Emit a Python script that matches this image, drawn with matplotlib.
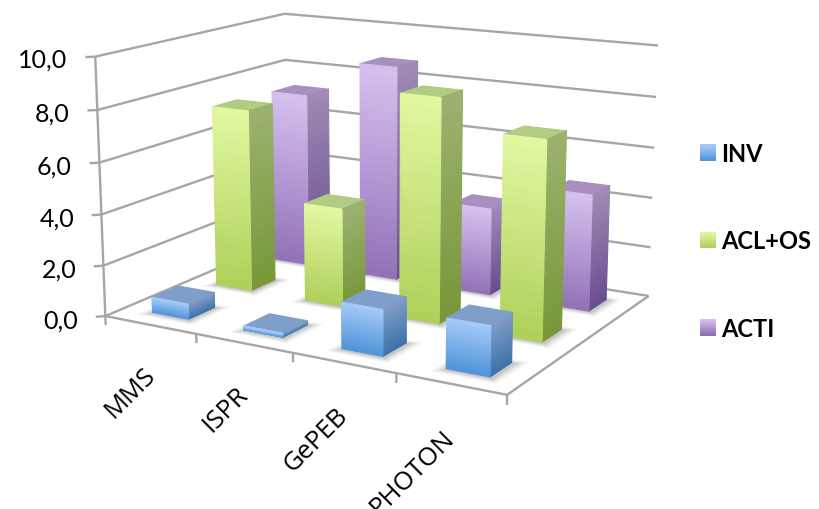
import numpy as np
import matplotlib
matplotlib.use("Agg")
import matplotlib.pyplot as plt
from matplotlib.colors import to_rgb
from matplotlib.legend_handler import HandlerBase
from matplotlib.patches import Rectangle
from mpl_toolkits.mplot3d import proj3d
from mpl_toolkits.mplot3d.art3d import Poly3DCollection

categories = ["MMS", "ISPR", "GePEB", "PHOTON"]
series_names = ["INV", "ACL+OS", "ACTI"]
inv_values = [0.6, 0.15, 1.75, 1.85]
acl_os_values = [7.3, 3.9, 8.65, 7.55]
acti_values = [7.2, 8.75, 3.5, 4.6]
z_ticks = [0, 2, 4, 6, 8, 10]
z_labels = ["0,0", "2,0", "4,0", "6,0", "8,0", "10,0"]

# front top, front bottom, side top, side bottom, cap
palettes = [
    ("#A4CAF8", "#4F93D8", "#7F9CC6", "#3B72A8", "#7E9FCA"),
    ("#E2F8A2", "#AECF58", "#9CB26F", "#779738", "#B1CB82"),
    ("#D6C1EE", "#9270B8", "#9F8BB4", "#684C8E", "#A88FC0"),
]
GRID = "#A6A6A6"
BAR = 0.4
N_STRIPS = 24


def blend(c0, c1, t):
    return tuple((1 - t) * a + t * b for a, b in zip(to_rgb(c0), to_rgb(c1)))


fig = plt.figure(figsize=(8.2, 5.1), dpi=100)
ax = fig.add_axes([75.2 / 820, 21.6 / 510, 597.4 / 820, 597.4 / 510], projection="3d")
ax.set_xlim(0, 4)
ax.set_ylim(0, 3)
ax.set_zlim(0, 10)
ax.view_init(elev=13.602, azim=-60.053, roll=0)
ax.set_proj_type("persp", focal_length=0.5428)
ax.set_box_aspect((1.6988, 1.2744, 1.0))
ax.set_axis_off()
ax.computed_zorder = False


def line(xs, ys, zs, lw=1.7):
    ax.plot(xs, ys, zs, color=GRID, lw=lw, zorder=1, solid_capstyle="butt")


def label(x, y, z, s, **kw):
    """Place screen-aligned text at a point of the 3D box."""
    px, py, _ = proj3d.proj_transform(x, y, z, ax.get_proj())
    return ax.text2D(float(px), float(py), s, transform=ax.transData, color="black",
                     zorder=50, clip_on=False, **kw)


# walls, floor and ticks
for z in z_ticks:
    line([-0.06, 0, 0, 4], [-0.06, 0, 3, 3], [z, z, z, z])
line([0, 0], [0, 0], [0, 10])
line([0, 4, 4], [0, 0, 3], [0, 0, 0])
for i in range(len(categories) + 1):
    line([i, i], [0, 0], [0, -0.36])

for z, lab in zip(z_ticks, z_labels):
    label(-0.17, -0.17, z - 0.06, lab, fontsize=18, family="Lato", ha="right", va="center")

for i, cat in enumerate(categories):
    label(i + 0.5, 0, -1.8, cat, fontsize=18.5, family="Open Sans", ha="right", va="center",
          rotation=45, rotation_mode="anchor")

# soft contact shadows on the floor
for j in range(3):
    for i in range(4):
        cx, cy = i + 0.5, j + 0.5
        for grow, alpha in [(0.10, 0.05), (0.075, 0.07), (0.05, 0.09), (0.025, 0.12)]:
            h = BAR / 2 + grow
            sx = cx + 0.02
            sy = cy - 0.02
            poly = [[(sx - h, sy - h, 0), (sx + h, sy - h, 0), (sx + h, sy + h, 0), (sx - h, sy + h, 0)]]
            ax.add_collection3d(Poly3DCollection(poly, facecolors=[(0.25, 0.25, 0.25, alpha)],
                                                 edgecolors="none", zorder=2))


def bar_faces(cx, cy, height, pal):
    x0, x1 = cx - BAR / 2, cx + BAR / 2
    y0, y1 = cy - BAR / 2, cy + BAR / 2
    verts, colors = [], []
    edges = np.linspace(0, height, N_STRIPS + 1)
    for k in range(N_STRIPS):
        lo, hi = edges[k], edges[k + 1]
        t = 1 - (k + 0.5) / N_STRIPS
        verts.append([(x0, y0, lo), (x1, y0, lo), (x1, y0, hi), (x0, y0, hi)])
        colors.append(blend(pal[0], pal[1], t))
        verts.append([(x1, y0, lo), (x1, y1, lo), (x1, y1, hi), (x1, y0, hi)])
        colors.append(blend(pal[2], pal[3], t))
    verts.append([(x0, y0, height), (x1, y0, height), (x1, y1, height), (x0, y1, height)])
    colors.append(to_rgb(pal[4]))
    return verts, colors


# painter's order: back row first, left to right
rows = [inv_values, acl_os_values, acti_values]
order = 10
for j in (2, 1, 0):
    for i, v in enumerate(rows[j]):
        verts, colors = bar_faces(i + 0.5, j + 0.5, v, palettes[j])
        ax.add_collection3d(Poly3DCollection(verts, facecolors=colors, edgecolors=colors,
                                             linewidths=0.8, zorder=order))
        order += 1


class GradientSwatch(HandlerBase):
    def create_artists(self, legend, orig, xd, yd, w, h, fontsize, trans):
        top, bottom = orig.get_facecolor()[:3], orig.get_edgecolor()[:3]
        strips = []
        n = 16
        for k in range(n):
            t = k / (n - 1)
            strips.append(Rectangle((-xd, -yd + h * (1 - (k + 1) / n)), w, h / n + 0.3,
                                    facecolor=blend(top, bottom, t), edgecolor="none", transform=trans))
        return strips


handles = [Rectangle((0, 0), 1, 1, facecolor=p[0], edgecolor=p[1]) for p in palettes]
fig.legend(handles, series_names, handler_map={Rectangle: GradientSwatch()},
           loc="center left", bbox_to_anchor=(700 / 820, 1 - 242 / 510), frameon=False,
           prop={"family": "Lato", "weight": "bold", "size": 17},
           handlelength=0.68, handleheight=0.68, handletextpad=0.22, labelspacing=2.72,
           borderpad=0, borderaxespad=0)

fig.savefig("out.png", dpi=100)
